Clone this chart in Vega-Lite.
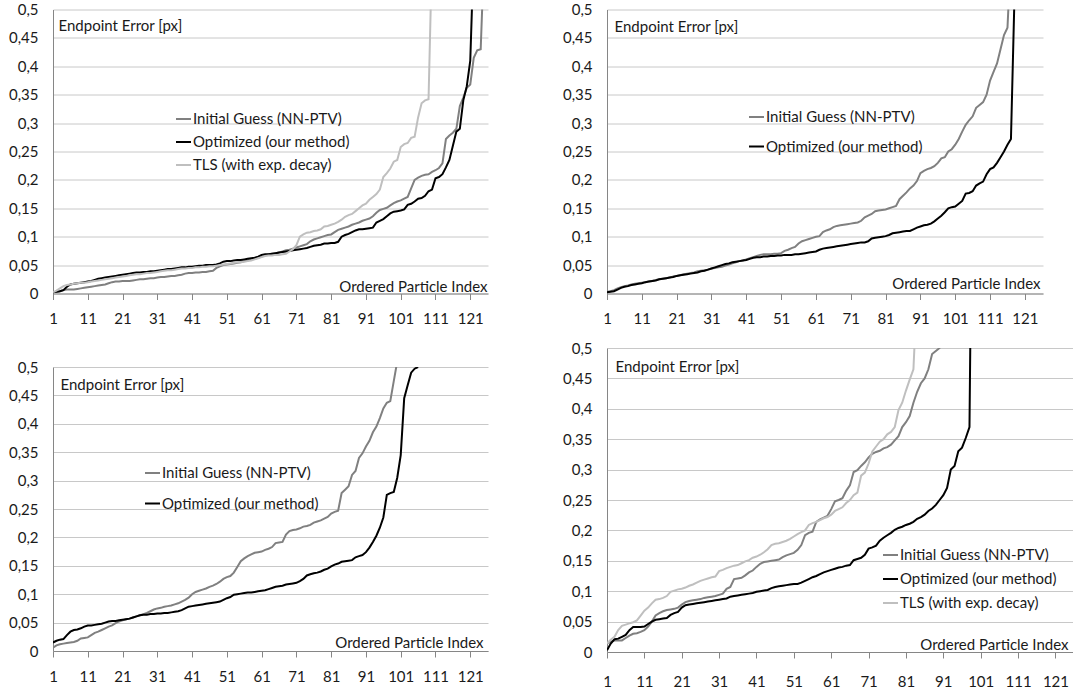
{
"$schema": "https://vega.github.io/schema/vega-lite/v6.json",
"padding": {"left": 8, "top": 2.5, "right": 0, "bottom": 0},
"background": "white",
"config": {
 "view": {"stroke": null},
 "font": "Lato",
 "axis": {"labelFont": "Lato", "labelFontSize": 15, "labelColor": "#1a1a1a", "titleFont": "Lato", "titleFontSize": 15, "titleFontWeight": "normal", "titleColor": "#1a1a1a", "domainColor": "#868686", "tickColor": "#868686", "gridColor": "#c8c8c8", "domainWidth": 1, "gridWidth": 1, "labelFlush": false, "labelOverlap": false},
 "legend": {"labelFont": "Lato", "labelFontSize": 15, "labelColor": "#1a1a1a", "symbolType": "stroke", "symbolStrokeWidth": 2, "symbolSize": 225, "labelOffset": 1, "padding": 0, "title": null},
 "line": {"strokeWidth": 2, "clip": true}
},
"datasets": {
"p1": [
{"i":1,"g":0.002,"o":0.002,"t":0.002},{"i":2,"g":0.003,"o":0.003,"t":0.005},{"i":3,"g":0.004,"o":0.004,"t":0.009},{"i":4,"g":0.006,"o":0.006,"t":0.013},{"i":5,"g":0.007,"o":0.012,"t":0.015},
{"i":6,"g":0.007,"o":0.016,"t":0.016},{"i":7,"g":0.007,"o":0.017,"t":0.017},{"i":8,"g":0.008,"o":0.018,"t":0.018},{"i":9,"g":0.009,"o":0.019,"t":0.019},{"i":10,"g":0.01,"o":0.02,"t":0.019},
{"i":11,"g":0.011,"o":0.021,"t":0.02},{"i":12,"g":0.012,"o":0.022,"t":0.021},{"i":13,"g":0.013,"o":0.024,"t":0.022},{"i":14,"g":0.014,"o":0.026,"t":0.023},{"i":15,"g":0.015,"o":0.027,"t":0.024},
{"i":16,"g":0.016,"o":0.028,"t":0.025},{"i":17,"g":0.018,"o":0.029,"t":0.026},{"i":18,"g":0.02,"o":0.03,"t":0.027},{"i":19,"g":0.021,"o":0.031,"t":0.028},{"i":20,"g":0.021,"o":0.032,"t":0.029},
{"i":21,"g":0.022,"o":0.033,"t":0.03},{"i":22,"g":0.022,"o":0.034,"t":0.031},{"i":23,"g":0.022,"o":0.035,"t":0.032},{"i":24,"g":0.023,"o":0.036,"t":0.033},{"i":25,"g":0.024,"o":0.037,"t":0.034},
{"i":26,"g":0.025,"o":0.037,"t":0.034},{"i":27,"g":0.025,"o":0.038,"t":0.035},{"i":28,"g":0.026,"o":0.038,"t":0.036},{"i":29,"g":0.027,"o":0.039,"t":0.036},{"i":30,"g":0.027,"o":0.039,"t":0.037},
{"i":31,"g":0.028,"o":0.04,"t":0.038},{"i":32,"g":0.029,"o":0.041,"t":0.039},{"i":33,"g":0.029,"o":0.042,"t":0.04},{"i":34,"g":0.03,"o":0.043,"t":0.041},{"i":35,"g":0.031,"o":0.043,"t":0.041},
{"i":36,"g":0.031,"o":0.044,"t":0.042},{"i":37,"g":0.032,"o":0.045,"t":0.043},{"i":38,"g":0.033,"o":0.046,"t":0.044},{"i":39,"g":0.035,"o":0.046,"t":0.044},{"i":40,"g":0.036,"o":0.047,"t":0.045},
{"i":41,"g":0.036,"o":0.047,"t":0.045},{"i":42,"g":0.037,"o":0.048,"t":0.046},{"i":43,"g":0.037,"o":0.049,"t":0.046},{"i":44,"g":0.038,"o":0.049,"t":0.047},{"i":45,"g":0.038,"o":0.05,"t":0.047},
{"i":46,"g":0.039,"o":0.05,"t":0.048},{"i":47,"g":0.04,"o":0.05,"t":0.048},{"i":48,"g":0.045,"o":0.051,"t":0.049},{"i":49,"g":0.048,"o":0.053,"t":0.05},{"i":50,"g":0.05,"o":0.056,"t":0.051},
{"i":51,"g":0.051,"o":0.057,"t":0.052},{"i":52,"g":0.052,"o":0.057,"t":0.053},{"i":53,"g":0.053,"o":0.058,"t":0.054},{"i":54,"g":0.054,"o":0.059,"t":0.055},{"i":55,"g":0.055,"o":0.059,"t":0.055},
{"i":56,"g":0.057,"o":0.06,"t":0.056},{"i":57,"g":0.058,"o":0.061,"t":0.057},{"i":58,"g":0.06,"o":0.062,"t":0.058},{"i":59,"g":0.061,"o":0.063,"t":0.06},{"i":60,"g":0.063,"o":0.065,"t":0.062},
{"i":61,"g":0.065,"o":0.068,"t":0.064},{"i":62,"g":0.067,"o":0.069,"t":0.066},{"i":63,"g":0.069,"o":0.069,"t":0.067},{"i":64,"g":0.07,"o":0.07,"t":0.067},{"i":65,"g":0.071,"o":0.071,"t":0.068},
{"i":66,"g":0.072,"o":0.072,"t":0.068},{"i":67,"g":0.074,"o":0.073,"t":0.069},{"i":68,"g":0.076,"o":0.074,"t":0.07},{"i":69,"g":0.077,"o":0.075,"t":0.074},{"i":70,"g":0.079,"o":0.076,"t":0.078},
{"i":71,"g":0.081,"o":0.077,"t":0.085},{"i":72,"g":0.083,"o":0.078,"t":0.1},{"i":73,"g":0.085,"o":0.079,"t":0.104},{"i":74,"g":0.087,"o":0.08,"t":0.107},{"i":75,"g":0.092,"o":0.082,"t":0.108},
{"i":76,"g":0.095,"o":0.084,"t":0.11},{"i":77,"g":0.097,"o":0.085,"t":0.111},{"i":78,"g":0.099,"o":0.086,"t":0.113},{"i":79,"g":0.101,"o":0.088,"t":0.118},{"i":80,"g":0.103,"o":0.088,"t":0.119},
{"i":81,"g":0.104,"o":0.089,"t":0.121},{"i":82,"g":0.108,"o":0.089,"t":0.123},{"i":83,"g":0.112,"o":0.091,"t":0.126},{"i":84,"g":0.114,"o":0.1,"t":0.13},{"i":85,"g":0.116,"o":0.103,"t":0.135},
{"i":86,"g":0.118,"o":0.105,"t":0.138},{"i":87,"g":0.121,"o":0.108,"t":0.14},{"i":88,"g":0.123,"o":0.111,"t":0.145},{"i":89,"g":0.125,"o":0.113,"t":0.15},{"i":90,"g":0.128,"o":0.113,"t":0.155},
{"i":91,"g":0.13,"o":0.114,"t":0.158},{"i":92,"g":0.132,"o":0.115,"t":0.165},{"i":93,"g":0.136,"o":0.116,"t":0.17},{"i":94,"g":0.142,"o":0.125,"t":0.175},{"i":95,"g":0.147,"o":0.128,"t":0.183},
{"i":96,"g":0.149,"o":0.131,"t":0.205},{"i":97,"g":0.151,"o":0.136,"t":0.212},{"i":98,"g":0.155,"o":0.141,"t":0.22},{"i":99,"g":0.159,"o":0.144,"t":0.232},{"i":100,"g":0.162,"o":0.145,"t":0.235},
{"i":101,"g":0.164,"o":0.146,"t":0.258},{"i":102,"g":0.167,"o":0.148,"t":0.263},{"i":103,"g":0.17,"o":0.156,"t":0.265},{"i":104,"g":0.185,"o":0.158,"t":0.274},{"i":105,"g":0.2,"o":0.162,"t":0.276},
{"i":106,"g":0.204,"o":0.167,"t":0.31},{"i":107,"g":0.207,"o":0.168,"t":0.335},{"i":108,"g":0.209,"o":0.172,"t":0.34},{"i":109,"g":0.21,"o":0.18,"t":0.342},{"i":110,"g":0.214,"o":0.183,"t":0.6},
{"i":111,"g":0.217,"o":0.203},{"i":112,"g":0.221,"o":0.205},{"i":113,"g":0.229,"o":0.21},{"i":114,"g":0.272,"o":0.222},{"i":115,"g":0.278,"o":0.235},
{"i":116,"g":0.283,"o":0.26},{"i":117,"g":0.29,"o":0.285},{"i":118,"g":0.33,"o":0.29},{"i":119,"g":0.345,"o":0.34},{"i":120,"g":0.362,"o":0.365},
{"i":121,"g":0.368,"o":0.41},{"i":122,"g":0.415,"o":0.6},{"i":123,"g":0.428},{"i":124,"g":0.43},{"i":125,"g":0.6}
],
"p2": [
{"i":1,"g":0.003,"o":0.002},{"i":2,"g":0.004,"o":0.003},{"i":3,"g":0.006,"o":0.004},{"i":4,"g":0.009,"o":0.007},{"i":5,"g":0.011,"o":0.01},
{"i":6,"g":0.013,"o":0.012},{"i":7,"g":0.014,"o":0.013},{"i":8,"g":0.016,"o":0.015},{"i":9,"g":0.017,"o":0.016},{"i":10,"g":0.018,"o":0.017},
{"i":11,"g":0.019,"o":0.018},{"i":12,"g":0.02,"o":0.02},{"i":13,"g":0.021,"o":0.021},{"i":14,"g":0.022,"o":0.022},{"i":15,"g":0.024,"o":0.023},
{"i":16,"g":0.025,"o":0.025},{"i":17,"g":0.026,"o":0.026},{"i":18,"g":0.027,"o":0.027},{"i":19,"g":0.028,"o":0.028},{"i":20,"g":0.03,"o":0.029},
{"i":21,"g":0.031,"o":0.031},{"i":22,"g":0.032,"o":0.032},{"i":23,"g":0.034,"o":0.033},{"i":24,"g":0.035,"o":0.034},{"i":25,"g":0.036,"o":0.035},
{"i":26,"g":0.037,"o":0.036},{"i":27,"g":0.039,"o":0.037},{"i":28,"g":0.04,"o":0.039},{"i":29,"g":0.041,"o":0.04},{"i":30,"g":0.042,"o":0.042},
{"i":31,"g":0.044,"o":0.044},{"i":32,"g":0.045,"o":0.046},{"i":33,"g":0.046,"o":0.048},{"i":34,"g":0.047,"o":0.05},{"i":35,"g":0.049,"o":0.052},
{"i":36,"g":0.051,"o":0.053},{"i":37,"g":0.053,"o":0.055},{"i":38,"g":0.055,"o":0.056},{"i":39,"g":0.057,"o":0.057},{"i":40,"g":0.058,"o":0.058},
{"i":41,"g":0.06,"o":0.059},{"i":42,"g":0.062,"o":0.061},{"i":43,"g":0.064,"o":0.063},{"i":44,"g":0.066,"o":0.064},{"i":45,"g":0.068,"o":0.064},
{"i":46,"g":0.069,"o":0.065},{"i":47,"g":0.069,"o":0.065},{"i":48,"g":0.069,"o":0.066},{"i":49,"g":0.07,"o":0.066},{"i":50,"g":0.07,"o":0.067},
{"i":51,"g":0.071,"o":0.067},{"i":52,"g":0.075,"o":0.068},{"i":53,"g":0.077,"o":0.068},{"i":54,"g":0.08,"o":0.068},{"i":55,"g":0.082,"o":0.069},
{"i":56,"g":0.088,"o":0.069},{"i":57,"g":0.092,"o":0.07},{"i":58,"g":0.094,"o":0.071},{"i":59,"g":0.096,"o":0.072},{"i":60,"g":0.098,"o":0.073},
{"i":61,"g":0.1,"o":0.074},{"i":62,"g":0.101,"o":0.077},{"i":63,"g":0.108,"o":0.079},{"i":64,"g":0.111,"o":0.08},{"i":65,"g":0.113,"o":0.081},
{"i":66,"g":0.117,"o":0.082},{"i":67,"g":0.119,"o":0.083},{"i":68,"g":0.12,"o":0.084},{"i":69,"g":0.121,"o":0.085},{"i":70,"g":0.122,"o":0.086},
{"i":71,"g":0.123,"o":0.087},{"i":72,"g":0.124,"o":0.088},{"i":73,"g":0.125,"o":0.089},{"i":74,"g":0.128,"o":0.09},{"i":75,"g":0.134,"o":0.09},
{"i":76,"g":0.137,"o":0.092},{"i":77,"g":0.14,"o":0.097},{"i":78,"g":0.145,"o":0.098},{"i":79,"g":0.146,"o":0.099},{"i":80,"g":0.147,"o":0.1},
{"i":81,"g":0.148,"o":0.101},{"i":82,"g":0.15,"o":0.103},{"i":83,"g":0.152,"o":0.106},{"i":84,"g":0.154,"o":0.107},{"i":85,"g":0.166,"o":0.108},
{"i":86,"g":0.172,"o":0.109},{"i":87,"g":0.178,"o":0.11},{"i":88,"g":0.185,"o":0.11},{"i":89,"g":0.19,"o":0.113},{"i":90,"g":0.198,"o":0.116},
{"i":91,"g":0.212,"o":0.118},{"i":92,"g":0.216,"o":0.12},{"i":93,"g":0.219,"o":0.121},{"i":94,"g":0.221,"o":0.123},{"i":95,"g":0.224,"o":0.127},
{"i":96,"g":0.23,"o":0.132},{"i":97,"g":0.238,"o":0.137},{"i":98,"g":0.24,"o":0.143},{"i":99,"g":0.25,"o":0.15},{"i":100,"g":0.254,"o":0.152},
{"i":101,"g":0.262,"o":0.153},{"i":102,"g":0.272,"o":0.158},{"i":103,"g":0.285,"o":0.163},{"i":104,"g":0.297,"o":0.176},{"i":105,"g":0.305,"o":0.177},
{"i":106,"g":0.312,"o":0.18},{"i":107,"g":0.327,"o":0.19},{"i":108,"g":0.332,"o":0.194},{"i":109,"g":0.337,"o":0.197},{"i":110,"g":0.35,"o":0.21},
{"i":111,"g":0.375,"o":0.219},{"i":112,"g":0.39,"o":0.222},{"i":113,"g":0.405,"o":0.23},{"i":114,"g":0.43,"o":0.24},{"i":115,"g":0.455,"o":0.25},
{"i":116,"g":0.468,"o":0.262},{"i":117,"g":0.6,"o":0.272},{"i":118,"o":0.52}
],
"p3": [
{"i":1,"g":0.006,"o":0.015},{"i":2,"g":0.01,"o":0.018},{"i":3,"g":0.012,"o":0.02},{"i":4,"g":0.013,"o":0.021},{"i":5,"g":0.014,"o":0.028},
{"i":6,"g":0.015,"o":0.034},{"i":7,"g":0.016,"o":0.037},{"i":8,"g":0.018,"o":0.038},{"i":9,"g":0.022,"o":0.04},{"i":10,"g":0.023,"o":0.043},
{"i":11,"g":0.024,"o":0.045},{"i":12,"g":0.028,"o":0.045},{"i":13,"g":0.032,"o":0.046},{"i":14,"g":0.034,"o":0.047},{"i":15,"g":0.037,"o":0.048},
{"i":16,"g":0.04,"o":0.05},{"i":17,"g":0.043,"o":0.052},{"i":18,"g":0.045,"o":0.053},{"i":19,"g":0.049,"o":0.053},{"i":20,"g":0.052,"o":0.054},
{"i":21,"g":0.054,"o":0.055},{"i":22,"g":0.056,"o":0.056},{"i":23,"g":0.057,"o":0.057},{"i":24,"g":0.059,"o":0.059},{"i":25,"g":0.061,"o":0.061},
{"i":26,"g":0.063,"o":0.063},{"i":27,"g":0.065,"o":0.064},{"i":28,"g":0.067,"o":0.064},{"i":29,"g":0.07,"o":0.065},{"i":30,"g":0.073,"o":0.065},
{"i":31,"g":0.075,"o":0.066},{"i":32,"g":0.076,"o":0.066},{"i":33,"g":0.078,"o":0.067},{"i":34,"g":0.079,"o":0.067},{"i":35,"g":0.08,"o":0.068},
{"i":36,"g":0.082,"o":0.069},{"i":37,"g":0.084,"o":0.07},{"i":38,"g":0.087,"o":0.072},{"i":39,"g":0.09,"o":0.075},{"i":40,"g":0.094,"o":0.078},
{"i":41,"g":0.1,"o":0.079},{"i":42,"g":0.104,"o":0.08},{"i":43,"g":0.106,"o":0.081},{"i":44,"g":0.108,"o":0.082},{"i":45,"g":0.11,"o":0.083},
{"i":46,"g":0.113,"o":0.084},{"i":47,"g":0.115,"o":0.085},{"i":48,"g":0.118,"o":0.086},{"i":49,"g":0.122,"o":0.087},{"i":50,"g":0.127,"o":0.09},
{"i":51,"g":0.13,"o":0.093},{"i":52,"g":0.132,"o":0.095},{"i":53,"g":0.138,"o":0.099},{"i":54,"g":0.148,"o":0.1},{"i":55,"g":0.158,"o":0.101},
{"i":56,"g":0.163,"o":0.102},{"i":57,"g":0.167,"o":0.103},{"i":58,"g":0.17,"o":0.103},{"i":59,"g":0.173,"o":0.104},{"i":60,"g":0.174,"o":0.105},
{"i":61,"g":0.175,"o":0.106},{"i":62,"g":0.178,"o":0.107},{"i":63,"g":0.18,"o":0.109},{"i":64,"g":0.183,"o":0.111},{"i":65,"g":0.19,"o":0.113},
{"i":66,"g":0.191,"o":0.114},{"i":67,"g":0.192,"o":0.115},{"i":68,"g":0.205,"o":0.117},{"i":69,"g":0.211,"o":0.118},{"i":70,"g":0.213,"o":0.119},
{"i":71,"g":0.214,"o":0.12},{"i":72,"g":0.216,"o":0.123},{"i":73,"g":0.219,"o":0.127},{"i":74,"g":0.22,"o":0.133},{"i":75,"g":0.222,"o":0.135},
{"i":76,"g":0.226,"o":0.137},{"i":77,"g":0.228,"o":0.138},{"i":78,"g":0.23,"o":0.14},{"i":79,"g":0.233,"o":0.143},{"i":80,"g":0.236,"o":0.145},
{"i":81,"g":0.242,"o":0.149},{"i":82,"g":0.245,"o":0.152},{"i":83,"g":0.247,"o":0.154},{"i":84,"g":0.278,"o":0.157},{"i":85,"g":0.284,"o":0.158},
{"i":86,"g":0.29,"o":0.159},{"i":87,"g":0.31,"o":0.16},{"i":88,"g":0.317,"o":0.165},{"i":89,"g":0.34,"o":0.167},{"i":90,"g":0.348,"o":0.169},
{"i":91,"g":0.36,"o":0.174},{"i":92,"g":0.37,"o":0.182},{"i":93,"g":0.385,"o":0.192},{"i":94,"g":0.395,"o":0.203},{"i":95,"g":0.41,"o":0.217},
{"i":96,"g":0.427,"o":0.235},{"i":97,"g":0.437,"o":0.275},{"i":98,"g":0.44,"o":0.278},{"i":99,"g":0.475,"o":0.28},{"i":100,"g":0.51,"o":0.305},
{"i":101,"g":0.6,"o":0.345},{"i":102,"o":0.445},{"i":103,"o":0.468},{"i":104,"o":0.49},{"i":105,"o":0.497},{"i":106,"o":0.5}
],
"p4": [
{"i":1,"g":0.014,"o":0.003,"t":0.014},{"i":2,"g":0.017,"o":0.014,"t":0.02},{"i":3,"g":0.019,"o":0.021,"t":0.025},{"i":4,"g":0.019,"o":0.022,"t":0.036},{"i":5,"g":0.019,"o":0.025,"t":0.043},
{"i":6,"g":0.023,"o":0.028,"t":0.045},{"i":7,"g":0.027,"o":0.036,"t":0.047},{"i":8,"g":0.03,"o":0.041,"t":0.049},{"i":9,"g":0.031,"o":0.041,"t":0.052},{"i":10,"g":0.033,"o":0.041,"t":0.06},
{"i":11,"g":0.036,"o":0.042,"t":0.068},{"i":12,"g":0.042,"o":0.046,"t":0.073},{"i":13,"g":0.05,"o":0.05,"t":0.08},{"i":14,"g":0.06,"o":0.053,"t":0.086},{"i":15,"g":0.064,"o":0.054,"t":0.087},
{"i":16,"g":0.067,"o":0.055,"t":0.089},{"i":17,"g":0.069,"o":0.056,"t":0.092},{"i":18,"g":0.07,"o":0.061,"t":0.099},{"i":19,"g":0.071,"o":0.064,"t":0.101},{"i":20,"g":0.073,"o":0.066,"t":0.103},
{"i":21,"g":0.078,"o":0.073,"t":0.104},{"i":22,"g":0.082,"o":0.077,"t":0.106},{"i":23,"g":0.084,"o":0.078,"t":0.109},{"i":24,"g":0.085,"o":0.079,"t":0.111},{"i":25,"g":0.086,"o":0.08,"t":0.114},
{"i":26,"g":0.087,"o":0.081,"t":0.117},{"i":27,"g":0.089,"o":0.082,"t":0.119},{"i":28,"g":0.09,"o":0.083,"t":0.121},{"i":29,"g":0.091,"o":0.084,"t":0.123},{"i":30,"g":0.092,"o":0.085,"t":0.124},
{"i":31,"g":0.094,"o":0.086,"t":0.133},{"i":32,"g":0.096,"o":0.087,"t":0.135},{"i":33,"g":0.104,"o":0.088,"t":0.138},{"i":34,"g":0.107,"o":0.091,"t":0.14},{"i":35,"g":0.12,"o":0.092,"t":0.142},
{"i":36,"g":0.121,"o":0.093,"t":0.143},{"i":37,"g":0.122,"o":0.094,"t":0.146},{"i":38,"g":0.126,"o":0.095,"t":0.149},{"i":39,"g":0.131,"o":0.096,"t":0.151},{"i":40,"g":0.134,"o":0.097,"t":0.155},
{"i":41,"g":0.14,"o":0.099,"t":0.157},{"i":42,"g":0.145,"o":0.1,"t":0.16},{"i":43,"g":0.148,"o":0.101,"t":0.164},{"i":44,"g":0.149,"o":0.102,"t":0.169},{"i":45,"g":0.15,"o":0.105,"t":0.176},
{"i":46,"g":0.151,"o":0.107,"t":0.178},{"i":47,"g":0.152,"o":0.108,"t":0.179},{"i":48,"g":0.156,"o":0.109,"t":0.181},{"i":49,"g":0.159,"o":0.11,"t":0.183},{"i":50,"g":0.161,"o":0.111,"t":0.186},
{"i":51,"g":0.163,"o":0.112,"t":0.19},{"i":52,"g":0.168,"o":0.112,"t":0.194},{"i":53,"g":0.176,"o":0.114,"t":0.197},{"i":54,"g":0.192,"o":0.117,"t":0.2},{"i":55,"g":0.196,"o":0.12,"t":0.209},
{"i":56,"g":0.198,"o":0.123,"t":0.212},{"i":57,"g":0.214,"o":0.125,"t":0.214},{"i":58,"g":0.218,"o":0.128,"t":0.217},{"i":59,"g":0.221,"o":0.131,"t":0.22},{"i":60,"g":0.224,"o":0.133,"t":0.222},
{"i":61,"g":0.235,"o":0.135,"t":0.226},{"i":62,"g":0.248,"o":0.137,"t":0.232},{"i":63,"g":0.25,"o":0.139,"t":0.235},{"i":64,"g":0.253,"o":0.14,"t":0.238},{"i":65,"g":0.265,"o":0.142,"t":0.245},
{"i":66,"g":0.274,"o":0.143,"t":0.25},{"i":67,"g":0.296,"o":0.151,"t":0.258},{"i":68,"g":0.299,"o":0.153,"t":0.262},{"i":69,"g":0.306,"o":0.155,"t":0.29},{"i":70,"g":0.312,"o":0.16,"t":0.295},
{"i":71,"g":0.32,"o":0.17,"t":0.31},{"i":72,"g":0.326,"o":0.172,"t":0.33},{"i":73,"g":0.329,"o":0.175,"t":0.338},{"i":74,"g":0.331,"o":0.183,"t":0.346},{"i":75,"g":0.335,"o":0.188,"t":0.35},
{"i":76,"g":0.337,"o":0.192,"t":0.358},{"i":77,"g":0.341,"o":0.196,"t":0.362},{"i":78,"g":0.348,"o":0.201,"t":0.37},{"i":79,"g":0.355,"o":0.204,"t":0.398},{"i":80,"g":0.37,"o":0.206,"t":0.41},
{"i":81,"g":0.378,"o":0.209,"t":0.43},{"i":82,"g":0.388,"o":0.211,"t":0.448},{"i":83,"g":0.41,"o":0.214,"t":0.465},{"i":84,"g":0.428,"o":0.219,"t":0.6},{"i":85,"g":0.442,"o":0.222},
{"i":86,"g":0.45,"o":0.226},{"i":87,"g":0.465,"o":0.232},{"i":88,"g":0.49,"o":0.236},{"i":89,"g":0.495,"o":0.242},{"i":90,"g":0.5,"o":0.25},
{"i":91,"g":0.52,"o":0.258},{"i":92,"o":0.27},{"i":93,"o":0.3},{"i":94,"o":0.306},{"i":95,"o":0.33},
{"i":96,"o":0.336},{"i":97,"o":0.352},{"i":98,"o":0.37},{"i":99,"o":1.0}
]
},
"hconcat": [
 {
  "spacing": 26.5,
  "resolve": {"scale": {"color": "independent", "x": "independent", "y": "independent"}, "legend": {"color": "independent"}},
  "vconcat": [
   {
    "width": 435, "height": 284,
    "data": {"name": "p1"},
    "transform": [{"fold": ["g", "o", "t"], "as": ["s", "v"]}],
    "mark": {"type": "line", "clip": true, "strokeWidth": 2},
    "encoding": {
     "x": {"field": "i", "type": "quantitative", "scale": {"domain": [1, 126.1], "nice": false, "zero": false},
      "axis": {"values": [1,11,21,31,41,51,61,71,81,91,101,111,121], "grid": false, "tickSize": 6, "labelPadding": 12, "title": "Ordered Particle Index", "titleX": 434, "titleY": -7, "titleAlign": "right", "titleBaseline": "middle", "titleAngle": 0, "minExtent": 40, "maxExtent": 40}},
     "y": {"field": "v", "type": "quantitative", "scale": {"domain": [0, 0.5], "nice": false},
      "axis": {"values": [0,0.05,0.1,0.15,0.2,0.25,0.3,0.35,0.4,0.45,0.5], "labelExpr": "replace(format(datum.value, '~g'), '.', ',')", "ticks": false, "tickSize": 0, "labelPadding": 15, "title": "Endpoint Error [px]", "titleAngle": 0, "titleAlign": "left", "titleBaseline": "middle", "titleX": 5, "titleY": 16, "minExtent": 45, "maxExtent": 45}},
     "color": {"field": "s", "type": "nominal", "scale": {"domain": ["g", "o", "t"], "range": ["#808080", "#000000", "#bfbfbf"]},
      "legend": {"orient": "none", "legendX": 122, "legendY": 101, "rowPadding": 6, "labelExpr": "datum.label == 'g' ? 'Initial Guess (NN-PTV)' : datum.label == 'o' ? 'Optimized (our method)' : 'TLS (with exp. decay)'"}}
    }
   },
   {
    "width": 435, "height": 284,
    "data": {"name": "p3"},
    "transform": [{"fold": ["g", "o"], "as": ["s", "v"]}],
    "mark": {"type": "line", "clip": true, "strokeWidth": 2},
    "encoding": {
     "x": {"field": "i", "type": "quantitative", "scale": {"domain": [1, 126.1], "nice": false, "zero": false},
      "axis": {"values": [1,11,21,31,41,51,61,71,81,91,101,111,121], "grid": false, "tickSize": 6, "labelPadding": 12, "title": "Ordered Particle Index", "titleX": 430, "titleY": -9, "titleAlign": "right", "titleBaseline": "middle", "titleAngle": 0, "minExtent": 40, "maxExtent": 40}},
     "y": {"field": "v", "type": "quantitative", "scale": {"domain": [0, 0.5], "nice": false},
      "axis": {"values": [0,0.05,0.1,0.15,0.2,0.25,0.3,0.35,0.4,0.45,0.5], "labelExpr": "replace(format(datum.value, '~g'), '.', ',')", "ticks": false, "tickSize": 0, "labelPadding": 15, "title": "Endpoint Error [px]", "titleAngle": 0, "titleAlign": "left", "titleBaseline": "middle", "titleX": 7, "titleY": 17, "minExtent": 45, "maxExtent": 45}},
     "color": {"field": "s", "type": "nominal", "scale": {"domain": ["g", "o"], "range": ["#808080", "#000000"]},
      "legend": {"orient": "none", "legendX": 91, "legendY": 97.5, "rowPadding": 13.5, "labelExpr": "datum.label == 'g' ? 'Initial Guess (NN-PTV)' : 'Optimized (our method)'"}}
    }
   }
  ]
 },
 {
  "spacing": 7.5,
  "resolve": {"scale": {"color": "independent", "x": "independent", "y": "independent"}, "legend": {"color": "independent"}},
  "vconcat": [
   {
    "width": 436, "height": 284,
    "data": {"name": "p2"},
    "transform": [{"fold": ["g", "o"], "as": ["s", "v"]}],
    "mark": {"type": "line", "clip": true, "strokeWidth": 2},
    "encoding": {
     "x": {"field": "i", "type": "quantitative", "scale": {"domain": [1, 126.2], "nice": false, "zero": false},
      "axis": {"values": [1,11,21,31,41,51,61,71,81,91,101,111,121], "grid": false, "tickSize": 6, "labelPadding": 12, "title": "Ordered Particle Index", "titleX": 433, "titleY": -10, "titleAlign": "right", "titleBaseline": "middle", "titleAngle": 0, "minExtent": 40, "maxExtent": 40}},
     "y": {"field": "v", "type": "quantitative", "scale": {"domain": [0, 0.5], "nice": false},
      "axis": {"values": [0,0.05,0.1,0.15,0.2,0.25,0.3,0.35,0.4,0.45,0.5], "labelExpr": "replace(format(datum.value, '~g'), '.', ',')", "ticks": false, "tickSize": 0, "labelPadding": 15, "title": "Endpoint Error [px]", "titleAngle": 0, "titleAlign": "left", "titleBaseline": "middle", "titleX": 7, "titleY": 17, "minExtent": 50, "maxExtent": 50}},
     "color": {"field": "s", "type": "nominal", "scale": {"domain": ["g", "o"], "range": ["#808080", "#000000"]},
      "legend": {"orient": "none", "legendX": 141, "legendY": 99, "rowPadding": 12.5, "labelExpr": "datum.label == 'g' ? 'Initial Guess (NN-PTV)' : 'Optimized (our method)'"}}
    }
   },
   {
    "width": 466, "height": 304,
    "data": {"name": "p4"},
    "transform": [{"fold": ["g", "o", "t"], "as": ["s", "v"]}],
    "mark": {"type": "line", "clip": true, "strokeWidth": 2},
    "encoding": {
     "x": {"field": "i", "type": "quantitative", "scale": {"domain": [1, 125.7], "nice": false, "zero": false},
      "axis": {"values": [1,11,21,31,41,51,61,71,81,91,101,111,121], "grid": false, "tickSize": 6, "labelPadding": 16, "title": "Ordered Particle Index", "titleX": 461, "titleY": -8, "titleAlign": "right", "titleBaseline": "middle", "titleAngle": 0, "minExtent": 40, "maxExtent": 40}},
     "y": {"field": "v", "type": "quantitative", "scale": {"domain": [0, 0.5], "nice": false},
      "axis": {"values": [0,0.05,0.1,0.15,0.2,0.25,0.3,0.35,0.4,0.45,0.5], "labelExpr": "replace(format(datum.value, '~g'), '.', ',')", "ticks": false, "tickSize": 0, "labelPadding": 15, "title": "Endpoint Error [px]", "titleAngle": 0, "titleAlign": "left", "titleBaseline": "middle", "titleX": 8, "titleY": 18, "minExtent": 45, "maxExtent": 45}},
     "color": {"field": "s", "type": "nominal", "scale": {"domain": ["g", "o", "t"], "range": ["#808080", "#000000", "#bfbfbf"]},
      "legend": {"orient": "none", "legendX": 275, "legendY": 198.5, "rowPadding": 7, "labelExpr": "datum.label == 'g' ? 'Initial Guess (NN-PTV)' : datum.label == 'o' ? 'Optimized (our method)' : 'TLS (with exp. decay)'"}}
    }
   }
  ]
 }
],
"spacing": 69,
"resolve": {"scale": {"color": "independent", "x": "independent", "y": "independent"}, "legend": {"color": "independent"}}
}
